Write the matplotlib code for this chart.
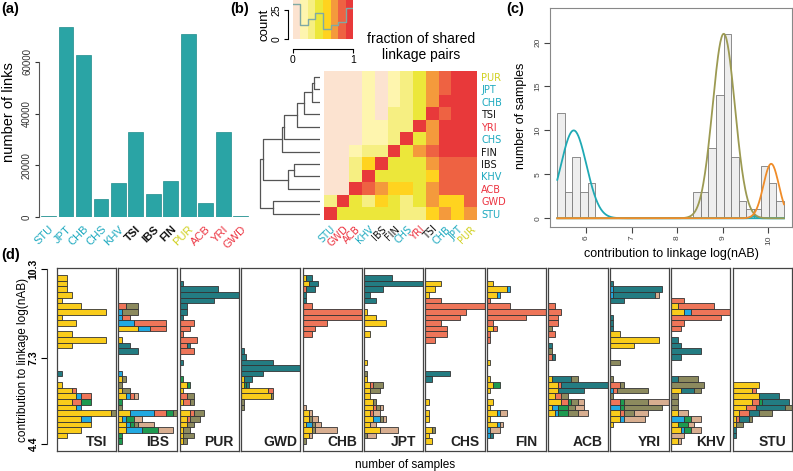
import numpy as np
import matplotlib
matplotlib.use("Agg")
import matplotlib.pyplot as plt
from matplotlib.colors import ListedColormap, BoundaryNorm

plt.rcParams['font.family'] = ['Liberation Sans', 'DejaVu Sans']

W, H = 793, 471


def px(l, t, r, b):
    """pixel box -> figure fraction rect"""
    return [l / W, 1 - b / H, (r - l) / W, (b - t) / H]


CYAN, RED, YEL, BLK = '#1DA9BF', '#EC3340', '#D0D01E', '#111111'
pop_col = {'STU': CYAN, 'JPT': CYAN, 'CHB': CYAN, 'CHS': CYAN, 'KHV': CYAN,
           'TSI': BLK, 'IBS': BLK, 'FIN': BLK, 'PUR': YEL,
           'ACB': RED, 'YRI': RED, 'GWD': RED}

# ---------------- (a) number of links
links_pops = ['STU', 'JPT', 'CHB', 'CHS', 'KHV', 'TSI', 'IBS', 'FIN', 'PUR', 'ACB', 'YRI', 'GWD']
links = [250, 73500, 62600, 7100, 13300, 32900, 9000, 14100, 70800, 5600, 32900, 300]

# ---------------- (b) heatmap of shared linkage pairs
hm_rows = ['PUR', 'JPT', 'CHB', 'TSI', 'YRI', 'CHS', 'FIN', 'IBS', 'KHV', 'ACB', 'GWD', 'STU']
hm_cols = ['STU', 'GWD', 'ACB', 'KHV', 'IBS', 'FIN', 'CHS', 'YRI', 'TSI', 'CHB', 'JPT', 'PUR']
hm_frac = [
    [.05, .05, .05, .20, .05, .20, .30, .45, .70, .80, .95, 1.0],
    [.05, .05, .05, .20, .05, .20, .30, .45, .70, .80, 1.0, .95],
    [.05, .05, .05, .20, .05, .20, .30, .45, .70, 1.0, .95, .95],
    [.05, .05, .05, .20, .05, .30, .30, .45, 1.0, .80, .95, .95],
    [.05, .05, .05, .20, .20, .30, .30, 1.0, .70, .95, .95, .95],
    [.05, .05, .05, .20, .20, .30, 1.0, .45, .70, .95, .95, .95],
    [.05, .05, .20, .30, .30, 1.0, .45, .70, .80, .95, .95, .95],
    [.05, .05, .30, .55, 1.0, .45, .45, .45, .70, .80, .80, .80],
    [.05, .05, .30, 1.0, .45, .45, .45, .45, .55, .80, .80, .80],
    [.05, .05, 1.0, .80, .70, .55, .55, .45, .70, .80, .80, .80],
    [.30, 1.0, .45, .30, .55, .45, .30, .45, .70, .55, .55, .80],
    [1.0, .45, .45, .45, .45, .45, .30, .30, .55, .70, .55, .70],
]
key_colors = ['#FCE3D0', '#FEF5AE', '#F6EF82', '#ECE73A', '#FFD31F', '#F49A3C', '#EE6242', '#E8393A']
# (left, right, height); ints point to earlier merges
dendro_merges = [('PUR', 'JPT', 0.086), (0, 'CHB', 0.13), (1, 'TSI', 0.26), (2, 'YRI', 0.37),
                 (3, 'CHS', 0.60), (4, 'FIN', 0.63), ('IBS', 'KHV', 0.43), (6, 'ACB', 0.53),
                 (5, 7, 0.94), ('GWD', 'STU', 0.78), (8, 9, 1.0)]

# ---------------- (c) histogram + fitted components
c_range = (5.37, 10.34)
c_counts = [12, 3, 7, 3, 4, 0, 0, 0, 0, 0, 0, 0, 0, 0, 0, 0, 0, 0,
            3, 3, 8, 14, 21, 7, 2, 1, 1, 6, 4, 2]
c_fits = [(5.73, 10.0, 0.28, '#1FA9B4'), (9.68, 0.25, 0.06, '#1FA9B4'),
          (9.02, 21.0, 0.245, '#9C9A52'), (10.06, 6.2, 0.17, '#F08C28')]

# ---------------- (d) stacked histograms per population
# rows: (bin from top, yellow, blue, salmon, green, teal, olive, tan)
d_order = ['TSI', 'IBS', 'PUR', 'GWD', 'CHB', 'JPT', 'CHS', 'FIN', 'ACB', 'YRI', 'KHV', 'STU']
seg_colors = ['#F9CC1B', '#22A9E1', '#EE7559', '#1D9A50', '#237C82', '#8C8A5E', '#D8AE90']
d_top, d_bw = 10.1, 0.19
d_data = {
    'TSI': [(0, 2), (1, 2), (2, 2), (3, 3), (4, 1), (5, 5), (6, 10), (7, 1), (8, 4), (10, 3),
            (11, 10), (12, 3), (17, 0, 0, 0, 0, 1), (19, 1), (20, 3, 0, 1), (21, 4, 1, 2),
            (22, 3, 0, 2, 2), (23, 4, 1), (24, 11, 0, 0, 0, 0, 1), (25, 5, 2), (26, 7),
            (27, 5), (28, 2)],
    'IBS': [(5, 0, 0, 2, 0, 0, 3), (6, 0, 1, 0, 0, 0, 4), (7, 0, 1, 2), (8, 0, 4, 8), (9, 5, 3, 4),
            (11, 1), (12, 0, 0, 0, 0, 3), (13, 0, 0, 0, 0, 5), (17, 0, 1), (18, 1, 0, 0, 0, 0, 1),
            (19, 0, 0, 0, 0, 0, 1), (20, 1, 0, 0, 0, 0, 2), (21, 2, 1, 1, 0, 0, 0, 1),
            (22, 0, 0, 0, 1), (23, 0, 0, 0, 0, 0, 1), (24, 3, 6, 3, 2, 0, 1),
            (25, 1, 1, 0, 2, 0, 0, 2), (26, 2, 1, 0, 1, 0, 1, 4), (27, 2, 4, 0, 4, 0, 0, 4),
            (28, 0, 0, 0, 1), (29, 0, 0, 0, 1)],
    'PUR': [(1, 0, 0, 0, 0, 1), (2, 0, 0, 0, 0, 11), (3, 0, 0, 0, 0, 17), (4, 0, 0, 0, 0, 10),
            (5, 0, 0, 0, 0, 2), (6, 0, 0, 0, 0, 2), (7, 0, 0, 0, 0, 1), (8, 0, 0, 4), (9, 0, 0, 3),
            (10, 0, 0, 1), (11, 0, 0, 5), (12, 0, 0, 2, 0, 1), (13, 0, 0, 4), (15, 0, 0, 0, 0, 1),
            (18, 0, 0, 0, 1), (19, 2, 0, 0, 1), (20, 1), (21, 0, 0, 2, 0, 0, 2),
            (22, 1, 0, 2, 0, 0, 1), (24, 3, 0, 1, 0, 0, 3), (25, 2, 0, 1, 0, 0, 3),
            (26, 2, 0, 0, 0, 0, 2), (27, 1, 0, 0, 0, 0, 2), (28, 1, 0, 0, 0, 0, 3),
            (29, 1, 0, 0, 0, 0, 1)],
    'GWD': [(13, 0, 0, 0, 0, 1), (14, 0, 0, 0, 0, 2), (15, 0, 0, 0, 0, 12), (16, 0, 0, 0, 0, 22),
            (17, 0, 0, 0, 0, 8), (18, 1, 0, 0, 0, 3), (19, 1, 0, 0, 1, 1), (20, 10, 0, 2),
            (21, 11, 0, 0, 0, 0, 1), (22, 0, 0, 0, 0, 0, 1), (23, 0, 0, 0, 0, 0, 1)],
    'CHB': [(0, 1, 0, 0, 0, 2), (1, 2, 0, 0, 0, 3), (2, 0, 0, 1, 0, 3), (3, 0, 0, 0, 0, 1),
            (4, 0, 0, 0, 0, 1), (5, 0, 0, 3), (6, 0, 0, 19), (7, 0, 0, 19), (8, 0, 0, 8),
            (9, 0, 0, 4), (10, 0, 0, 3), (23, 0, 0, 0, 0, 0, 0, 1), (24, 2, 0, 0, 0, 0, 0, 1),
            (25, 2, 0, 0, 0, 0, 1, 2), (26, 1, 2, 0, 0, 0, 1, 2), (27, 3, 0, 0, 0, 0, 1, 7),
            (28, 2, 0, 0, 0, 0, 0, 1), (29, 0, 0, 0, 0, 0, 1)],
    'JPT': [(0, 0, 0, 0, 0, 9), (1, 0, 0, 0, 0, 19), (2, 0, 0, 0, 0, 6), (3, 0, 0, 0, 0, 2),
            (4, 0, 0, 0, 0, 4), (6, 1), (7, 4), (8, 7), (10, 2), (15, 1), (17, 0, 0, 0, 0, 0, 1),
            (18, 1), (19, 2, 0, 1, 0, 0, 3), (20, 2, 0, 0, 0, 0, 3), (21, 2),
            (22, 3, 0, 0, 0, 0, 1), (23, 3, 0, 1, 0, 0, 1, 1), (24, 2, 0, 1, 0, 0, 0, 2),
            (25, 3, 2, 0, 0, 0, 1, 1), (26, 2, 0, 0, 0, 0, 0, 2), (27, 5, 0, 0, 0, 0, 0, 6),
            (28, 0, 0, 0, 0, 0, 1, 3)],
    'CHS': [(1, 5), (2, 3), (3, 1), (4, 0, 0, 5), (5, 0, 0, 19), (6, 0, 0, 13), (7, 0, 0, 11),
            (8, 0, 0, 5), (9, 0, 0, 7), (10, 0, 0, 7), (11, 0, 0, 3), (17, 0, 0, 0, 0, 8),
            (18, 0, 0, 0, 0, 2), (22, 1), (24, 1), (25, 1), (27, 2, 0, 0, 0, 0, 1), (28, 1),
            (29, 2)],
    'FIN': [(1, 2), (2, 6, 1), (3, 3, 1), (4, 0, 0, 1), (5, 0, 0, 7), (6, 0, 0, 18),
            (7, 0, 0, 12), (8, 0, 0, 2), (9, 2, 0, 1), (10, 0, 0, 1), (11, 0, 0, 1), (15, 1),
            (18, 1), (19, 2, 0, 0, 2), (20, 1), (22, 2), (23, 1), (24, 3, 1, 0, 0, 0, 0, 2),
            (25, 1), (26, 3, 1, 0, 0, 0, 0, 1), (27, 0, 1, 0, 0, 0, 0, 3), (28, 0, 1, 0, 0, 1)],
    'ACB': [(5, 0, 0, 2), (6, 0, 0, 4), (7, 0, 0, 3), (8, 0, 0, 3), (9, 0, 0, 0, 0, 0, 1),
            (10, 0, 0, 2), (12, 0, 0, 0, 0, 1), (13, 0, 0, 0, 0, 0, 1), (14, 0, 0, 1, 0, 1),
            (18, 1, 0, 0, 0, 6, 2), (19, 3, 0, 1, 0, 14), (20, 3, 0, 0, 0, 8),
            (21, 2, 0, 2, 0, 0, 2), (22, 4, 0, 2, 1, 0, 2, 2), (23, 1, 2, 0, 3, 0, 2, 3),
            (24, 2, 1, 0, 3, 0, 3, 3)],
    'YRI': [(1, 0, 0, 0, 0, 1), (2, 0, 1, 0, 0, 14), (3, 0, 1, 0, 0, 12, 0, 1), (4, 0, 0, 0, 0, 4),
            (7, 0, 0, 0, 0, 1), (8, 0, 0, 0, 0, 1), (9, 0, 0, 0, 0, 1), (10, 3), (11, 14), (12, 7),
            (15, 0, 0, 0, 0, 0, 3), (18, 0, 0, 0, 0, 0, 1), (19, 0, 0, 3, 0, 0, 1),
            (20, 0, 1, 1, 0, 0, 9), (21, 0, 0, 0, 0, 0, 1), (22, 0, 0, 3, 1, 0, 7, 6),
            (23, 0, 3, 0, 1, 0, 11), (24, 3, 0, 1, 0, 0, 3, 4), (25, 3, 1, 0, 0, 0, 0, 6), (26, 1)],
    'KHV': [(4, 0, 0, 4), (5, 2, 0, 11), (6, 4, 2, 12), (7, 0, 0, 15), (8, 0, 0, 4), (9, 0, 0, 3),
            (11, 0, 0, 0, 0, 2), (12, 0, 0, 0, 0, 3), (13, 0, 0, 0, 0, 9), (14, 0, 0, 0, 0, 3),
            (18, 0, 0, 0, 0, 2, 6), (19, 0, 0, 0, 0, 0, 10), (20, 3, 0, 0, 0, 4, 2),
            (21, 0, 0, 0, 0, 0, 2), (22, 0, 0, 0, 0, 0, 2), (23, 0, 0, 0, 0, 0, 2),
            (24, 2, 0, 0, 0, 0, 0, 3), (25, 0, 4, 0, 2, 0, 0, 3), (26, 2, 0, 0, 3, 0, 0, 2),
            (27, 3, 1, 0, 2, 0, 0, 3), (28, 0, 0, 0, 0, 0, 0, 4), (29, 2, 0, 0, 0, 0, 0, 1)],
    'STU': [(19, 8), (20, 6, 0, 1), (21, 8, 0, 0, 0, 6), (22, 6, 0, 2, 1, 8),
            (23, 4, 0, 3, 0, 9, 2), (24, 2, 0, 3, 0, 3, 4), (25, 1, 0, 1, 0, 3, 1),
            (26, 1, 0, 0, 0, 0, 2), (27, 0, 0, 0, 0, 1), (28, 0, 0, 0, 0, 1)],
}

fig = plt.figure(figsize=(W / 100, H / 100), dpi=100)

# ================= (a)
ax = fig.add_axes(px(39, 23.25, 252, 217))
ax.bar(range(len(links)), links, width=0.85, color='#2AA4A5', edgecolor='#1E8C8C', lw=0.5)
ax.set_xlim(-0.55, 11.65)
ax.set_ylim(0, 75000)
for s in ['top', 'right', 'bottom']:
    ax.spines[s].set_visible(False)
ax.spines['left'].set_bounds(0, 60000)
ax.spines['left'].set_color('#555555')
ax.set_yticks([0, 20000, 40000, 60000])
ax.set_yticklabels(['0', '20000', '40000', '60000'], rotation=90, va='center', fontsize=7)
ax.tick_params(axis='y', length=3, pad=2, colors='#333333')
ax.set_xticks(range(len(links_pops)))
ax.set_xticklabels(links_pops, rotation=45, ha='right', va='top', rotation_mode='anchor', fontsize=8)
ax.tick_params(axis='x', length=0, pad=5)
for lab in ax.get_xticklabels():
    c = pop_col[lab.get_text()]
    lab.set_color(c)
    if c == BLK:
        lab.set_fontweight('bold')
fig.text(9 / W, 1 - 112 / H, 'number of links', rotation=90, ha='center', va='center', fontsize=10.5)
fig.text(1 / W, 1 - 9 / H, '(a)', ha='left', va='center', fontsize=10.5, fontweight='bold')

# ================= (b)
kb = np.linspace(0, 1, 9)
cmap = ListedColormap(key_colors)
norm = BoundaryNorm(np.append(kb[:-1], 1.001), cmap.N)

axh = fig.add_axes(px(324, 70.7, 477, 220))
axh.imshow(np.array(hm_frac), cmap=cmap, norm=norm, aspect='auto', interpolation='nearest')
for s in axh.spines.values():
    s.set_visible(False)
axh.set_xticks(range(12))
axh.set_xticklabels(hm_cols, rotation=45, ha='right', va='top', rotation_mode='anchor',
                    fontsize=7, family='DejaVu Sans')
axh.yaxis.tick_right()
axh.set_yticks(range(12))
axh.set_yticklabels(hm_rows, fontsize=7, family='DejaVu Sans')
axh.tick_params(length=0, pad=3)
for lab in axh.get_xticklabels() + axh.get_yticklabels():
    lab.set_color(pop_col[lab.get_text()])

# dendrogram
axd = fig.add_axes(px(258, 70.7, 320, 220))
pos = {r: (i, 0.0) for i, r in enumerate(hm_rows)}
for k, (a, b, h) in enumerate(dendro_merges):
    ya, ha = pos[a]
    yb, hb = pos[b]
    axd.plot([ha, h, h, hb], [ya, ya, yb, yb], color='#555555', lw=0.9)
    pos[k] = ((ya + yb) / 2, h)
axd.set_xlim(1.03, -0.01)
axd.set_ylim(11.5, -0.5)
axd.axis('off')

# colour key with histogram
axk = fig.add_axes(px(292.7, 0, 353.3, 39.3))
kcounts, _ = np.histogram(np.array(hm_frac).ravel(), bins=kb)
for i in range(8):
    axk.axvspan(kb[i], kb[i + 1], color=key_colors[i], lw=0)
axk.step(kb, np.append(kcounts, kcounts[-1]), where='post', color='#7FA9A4', lw=1)
axk.set_xlim(0, 1)
axk.set_ylim(0, 33.5)
axk.spines['top'].set_visible(False)
axk.spines['right'].set_visible(False)
axk.spines['bottom'].set_position(('outward', 7))
axk.spines['left'].set_position(('outward', 3.5))
axk.spines['left'].set_bounds(0, 25)
axk.set_xticks([0, 1])
axk.set_xticklabels(['0', '1'], fontsize=7.5)
axk.set_yticks([0, 25])
axk.set_yticklabels(['0', '25'], rotation=90, va='center', fontsize=7.5)
axk.tick_params(length=3, pad=1.5)
fig.text(265 / W, 1 - 25 / H, 'count', rotation=90, ha='center', va='center', fontsize=9.5)
fig.text(421 / W, 1 - 47 / H, 'fraction of shared\nlinkage pairs', ha='center', va='center',
         fontsize=10, linespacing=1.1)
fig.text(230 / W, 1 - 9 / H, '(b)', ha='left', va='center', fontsize=10.5, fontweight='bold')

# ================= (c)
axc = fig.add_axes(px(550, 8.3, 791.7, 226.7))
c_edges = np.linspace(c_range[0], c_range[1], len(c_counts) + 1)
axc.bar(c_edges[:-1], c_counts, width=np.diff(c_edges), align='edge', color='#EEEEEE',
        edgecolor='#7A7A7A', lw=0.6)
xs = np.linspace(c_range[0], c_range[1], 400)
for mu, amp, sd, col in c_fits:
    axc.plot(xs, amp * np.exp(-0.5 * ((xs - mu) / sd) ** 2), color=col, lw=1.3)
axc.set_xlim(5.21, 10.51)
axc.set_ylim(-0.96, 23.9)
for s in axc.spines.values():
    s.set_color('#888888')
    s.set_linewidth(0.8)
axc.set_xticks([6, 7, 8, 9, 10])
axc.set_xticklabels(['6', '7', '8', '9', '10'], rotation=90, va='top', fontsize=6)
axc.set_yticks([0, 5, 10, 15, 20])
axc.set_yticklabels(['0', '5', '10', '15', '20'], rotation=90, va='center', fontsize=6)
axc.tick_params(length=4, colors='#444444', pad=2)
fig.text(521 / W, 1 - 116 / H, 'number of samples', rotation=90, ha='center', va='center', fontsize=9)
fig.text(671 / W, 1 - 254 / H, 'contribution to linkage log(nAB)', ha='center', va='center', fontsize=9)
fig.text(506 / W, 1 - 9 / H, '(c)', ha='left', va='center', fontsize=10.5, fontweight='bold')

# ================= (d)
d_ylim = (4.164, 10.344)
for k, pop in enumerate(d_order):
    left = 56.7 + k * 61.45
    axp = fig.add_axes(px(left, 268, left + 59.2, 451))
    tot_max = 0
    for row in d_data[pop]:
        vals = list(row[1:]) + [0] * (8 - len(row))
        yc = d_top - (row[0] + 0.5) * d_bw
        x0 = 0
        for v, col in zip(vals, seg_colors):
            if v:
                axp.barh(yc, v, left=x0, height=d_bw, color=col, edgecolor='#333333', lw=0.6)
                x0 += v
        tot_max = max(tot_max, x0)
    axp.set_xlim(0, tot_max)
    axp.set_ylim(*d_ylim)
    axp.set_xticks([])
    axp.set_yticks([])
    for s in axp.spines.values():
        s.set_color('#444444')
        s.set_linewidth(0.9)
    axp.text(0.67, 0.012, pop, transform=axp.transAxes, ha='center', va='bottom',
             fontsize=10, fontweight='bold', color='#222222')

# separate y axis left of the first panel
axy = fig.add_axes(px(56.7, 268, 115.9, 451))
axy.patch.set_visible(False)
axy.set_ylim(*d_ylim)
for s in ['top', 'right', 'bottom']:
    axy.spines[s].set_visible(False)
axy.spines['left'].set_position(('outward', 7))
axy.spines['left'].set_bounds(4.4, 10.3)
axy.spines['left'].set_color('#444444')
axy.set_xticks([])
axy.set_yticks([4.4, 7.3, 10.3])
axy.set_yticklabels(['4.4', '7.3', '10.3'], rotation=90, va='center', fontsize=7.5,
                    fontweight='bold')
axy.tick_params(axis='y', length=4, pad=2)

fig.text(23 / W, 1 - 360 / H, 'contribution to linkage log(nAB)', rotation=90, ha='center',
         va='center', fontsize=8.5)
fig.text(405 / W, 1 - 465 / H, 'number of samples', ha='center', va='center', fontsize=8.5)
fig.text(1 / W, 1 - 255 / H, '(d)', ha='left', va='center', fontsize=10.5, fontweight='bold')

fig.savefig('out.png', dpi=100)
